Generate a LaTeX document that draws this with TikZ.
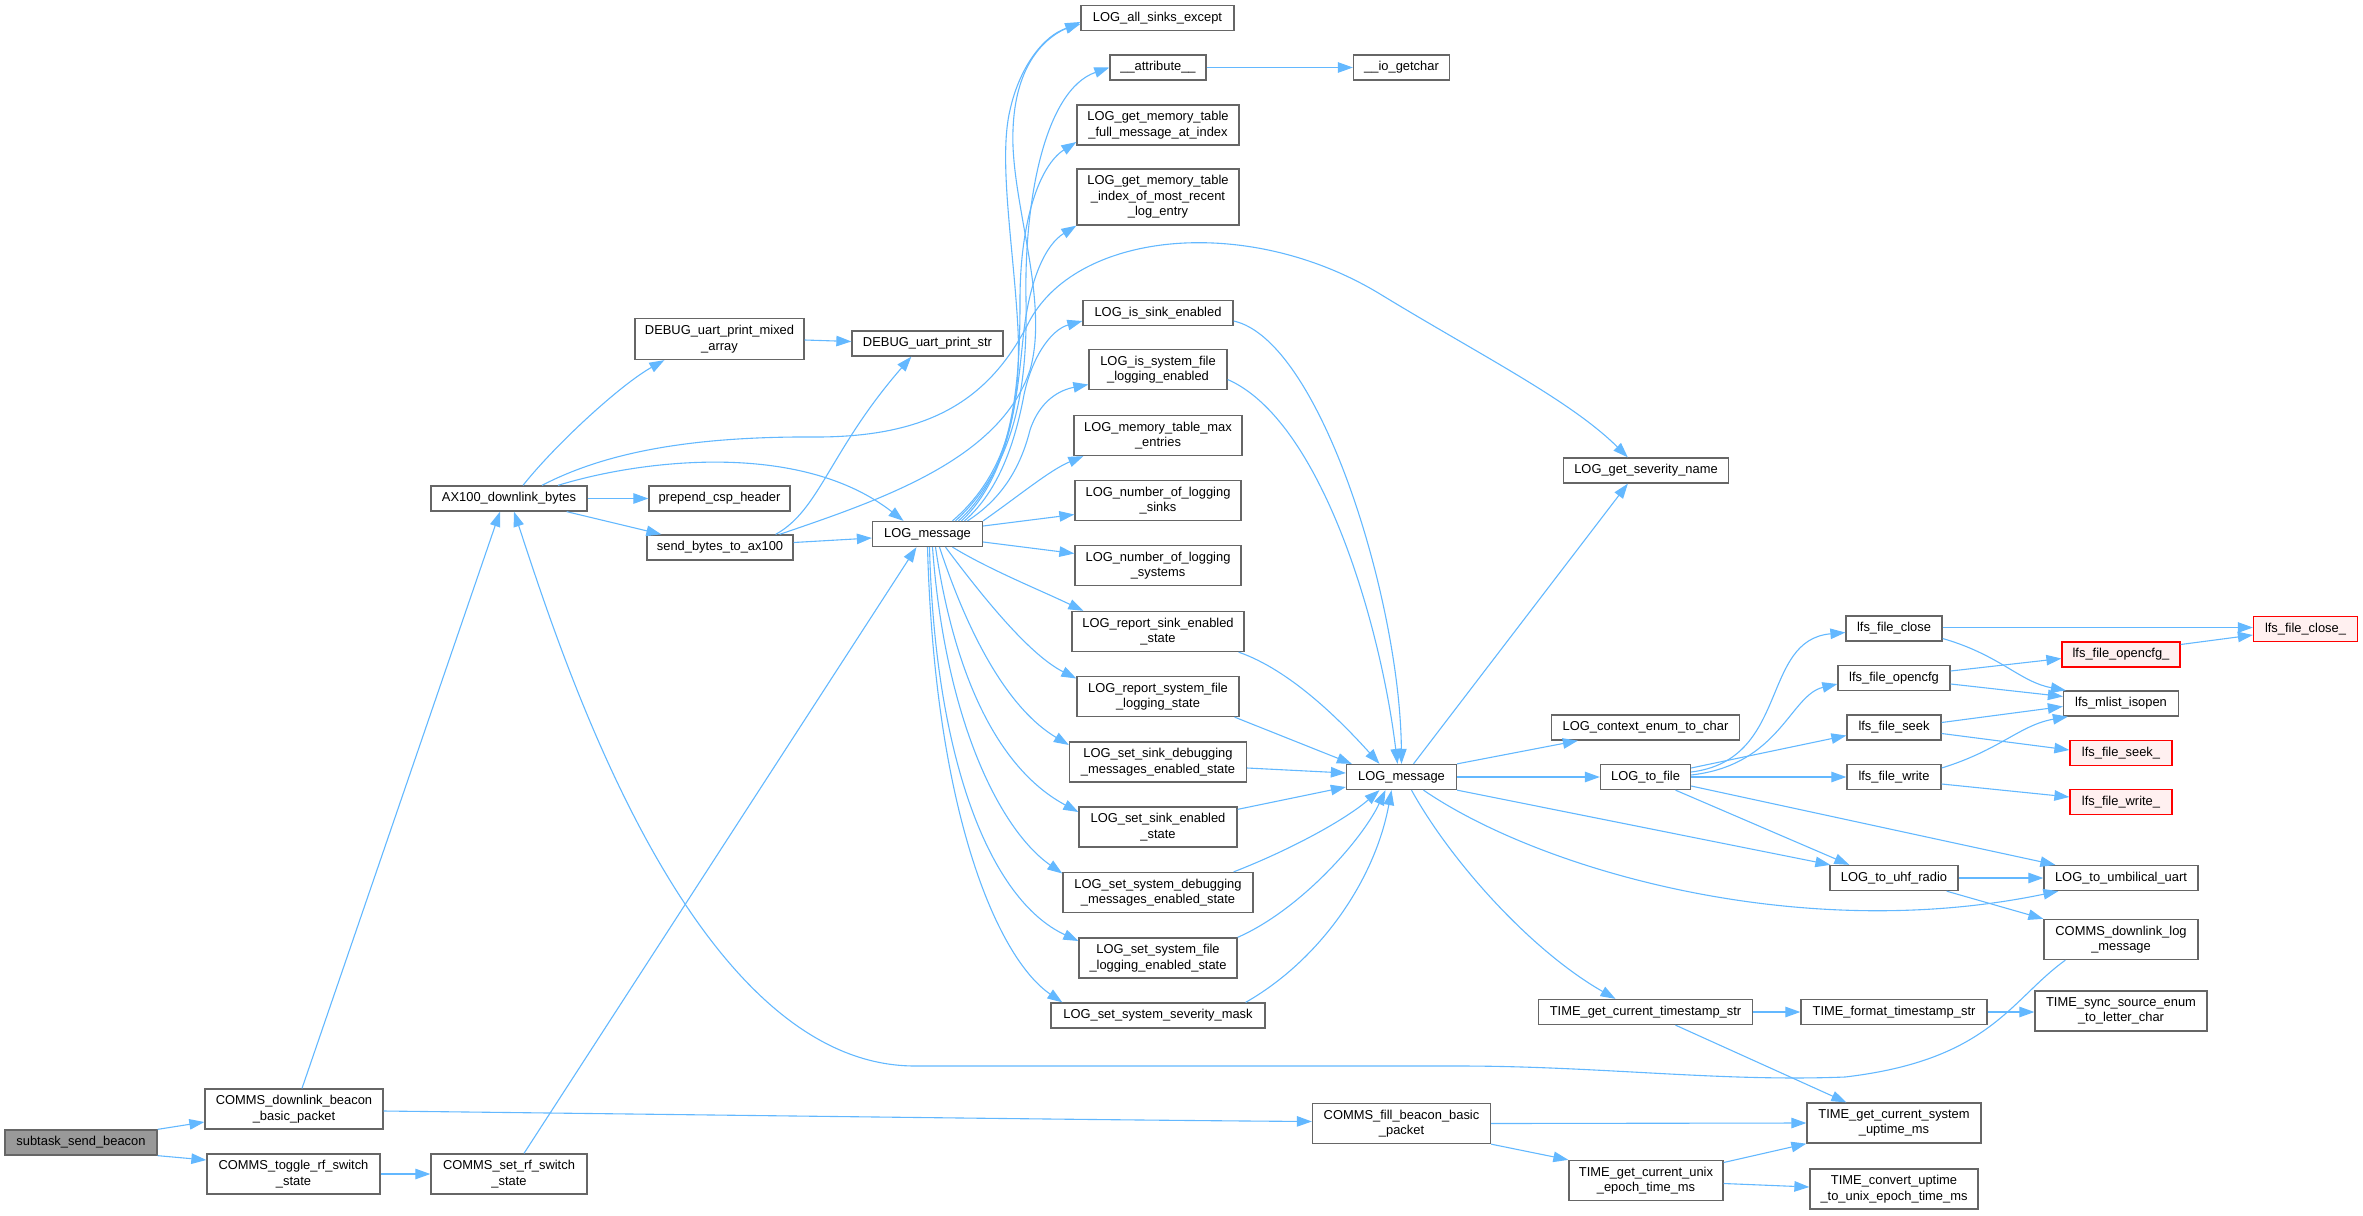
\documentclass[tikz,border=0pt]{standalone}
\usepackage{fontspec}
\setmainfont{Liberation Sans}
\usetikzlibrary{arrows.meta,calc}
\definecolor{edgec}{HTML}{63B8FF}
\definecolor{boxc}{HTML}{666666}
\definecolor{rootc}{HTML}{999999}
\definecolor{redfill}{HTML}{FFF0F0}
\newcommand{\mknode}[7][box]{\node[#1,minimum width=#5pt,minimum height=#6pt] (#2) at (#3,#4) {#7};}
\begin{document}
\begin{tikzpicture}[x=1pt,y=-1pt,
  box/.style={draw=boxc,fill=white,line width=1.3pt,inner sep=0pt,align=center,font=\fontsize{12.9}{15.5}\selectfont},
  rootbox/.style={box,fill=rootc},
  redbox/.style={box,draw=red,fill=redfill},
  conn/.style={draw=edgec,line width=1.1pt,-{Triangle[length=15pt,width=10.5pt]}}]
\useasboundingbox (0,0) rectangle (2363,1215);
% nodes
\mknode[rootbox]{root}{81}{1142.5}{152}{25}{subtask\_send\_beacon}
\mknode{cdl}{294}{1109}{178}{40}{COMMS\_downlink\_beacon\\\_basic\_packet}
\mknode{ctog}{293.5}{1174}{173}{40}{COMMS\_toggle\_rf\_switch\\\_state}
\mknode{cset}{509}{1174}{156}{40}{COMMS\_set\_rf\_switch\\\_state}
\mknode{ax}{509}{498.5}{156}{25}{AX100\_downlink\_bytes}
\mknode{dbgm}{719.5}{339}{169}{41}{DEBUG\_uart\_print\_mixed\\\_array}
\mknode{dbgs}{927.5}{343.5}{151}{25}{DEBUG\_uart\_print\_str}
\mknode{prep}{719.5}{498.5}{141}{25}{prepend\_csp\_header}
\mknode{send}{720}{547.5}{146}{25}{send\_bytes\_to\_ax100}
\mknode{logl}{927.5}{534}{110}{25}{LOG\_message}
\mknode{all}{1157.5}{18}{153}{25}{LOG\_all\_sinks\_except}
\mknode{attr}{1158}{67.5}{96}{25}{\_\_attribute\_\_}
\mknode{io}{1401.5}{67.5}{96}{25}{\_\_io\_getchar}
\mknode{gmf}{1158}{125}{162}{40}{LOG\_get\_memory\_table\\\_full\_message\_at\_index}
\mknode{gmi}{1158}{197}{162}{56}{LOG\_get\_memory\_table\\\_index\_of\_most\_recent\\\_log\_entry}
\mknode{isse}{1158}{313}{150}{25}{LOG\_is\_sink\_enabled}
\mknode{issf}{1158}{369.5}{138}{40}{LOG\_is\_system\_file\\\_logging\_enabled}
\mknode{mtm}{1158}{435.5}{168}{40}{LOG\_memory\_table\_max\\\_entries}
\mknode{nls}{1158}{500.5}{166}{40}{LOG\_number\_of\_logging\\\_sinks}
\mknode{nlsy}{1158}{565.5}{166}{40}{LOG\_number\_of\_logging\\\_systems}
\mknode{rse}{1158}{631.5}{172}{40}{LOG\_report\_sink\_enabled\\\_state}
\mknode{rsf}{1158}{696.5}{162}{40}{LOG\_report\_system\_file\\\_logging\_state}
\mknode{ssd}{1158}{762}{177}{40}{LOG\_set\_sink\_debugging\\\_messages\_enabled\_state}
\mknode{sse}{1158}{827}{158}{40}{LOG\_set\_sink\_enabled\\\_state}
\mknode{ssyd}{1158}{892.5}{190}{40}{LOG\_set\_system\_debugging\\\_messages\_enabled\_state}
\mknode{ssyf}{1158}{958}{158}{40}{LOG\_set\_system\_file\\\_logging\_enabled\_state}
\mknode{ssm}{1158}{1015.5}{214}{25}{LOG\_set\_system\_severity\_mask}
\mknode{sev}{1646}{470.5}{165}{25}{LOG\_get\_severity\_name}
\mknode{logr}{1401.5}{777}{110}{25}{LOG\_message}
\mknode{ctx}{1645.5}{727.5}{188}{25}{LOG\_context\_enum\_to\_char}
\mknode{tofile}{1645.5}{777}{90}{25}{LOG\_to\_file}
\mknode{fclose}{1894}{628.5}{96}{25}{lfs\_file\_close}
\mknode{fopen}{1894}{678}{112}{25}{lfs\_file\_opencfg}
\mknode{fseek}{1894}{727.5}{94}{25}{lfs\_file\_seek}
\mknode{fwrite}{1894}{777}{94}{25}{lfs\_file\_write}
\mknode[redbox]{fclosex}{2305.5}{629}{104}{25}{lfs\_file\_close\_}
\mknode[redbox]{fopenx}{2121}{654.5}{118}{25}{lfs\_file\_opencfg\_}
\mknode{mlist}{2121}{703.5}{115}{25}{lfs\_mlist\_isopen}
\mknode[redbox]{fseekx}{2121}{753}{102}{25}{lfs\_file\_seek\_}
\mknode[redbox]{fwritex}{2121}{802}{102}{25}{lfs\_file\_write\_}
\mknode{uhf}{1894}{878}{128}{25}{LOG\_to\_uhf\_radio}
\mknode{umb}{2121}{878}{154}{25}{LOG\_to\_umbilical\_uart}
\mknode{cdlog}{2121}{939.5}{154}{40}{COMMS\_downlink\_log\\\_message}
\mknode{tcts}{1645.5}{1012}{214}{25}{TIME\_get\_current\_timestamp\_str}
\mknode{tfmt}{1894}{1012}{186}{25}{TIME\_format\_timestamp\_str}
\mknode{tsync}{2121}{1011}{172}{40}{TIME\_sync\_source\_enum\\\_to\_letter\_char}
\mknode{cfill}{1401.5}{1123.5}{178}{40}{COMMS\_fill\_beacon\_basic\\\_packet}
\mknode{tup}{1894}{1123}{174}{40}{TIME\_get\_current\_system\\\_uptime\_ms}
\mknode{tunix}{1646}{1180.5}{154}{40}{TIME\_get\_current\_unix\\\_epoch\_time\_ms}
\mknode{tconv}{1894}{1189}{168}{40}{TIME\_convert\_uptime\\\_to\_unix\_epoch\_time\_ms}
% edges: left part
\draw[conn] (root.north east) -- ($(cdl.west)+(0,13)$);
\draw[conn] (root.south east) -- ($(ctog.west)+(0,-14)$);
\draw[conn] ($(cdl.north)+(8,0)$) -- ($(ax.south)+(-9,0)$);
\draw[conn] ($(cdl.east)+(0,2)$) .. controls (800,1116) and (1100,1120) .. ($(cfill.west)+(0,-2)$);
\draw[conn] (ctog.east) -- (cset.west);
\draw[conn] ($(cset.north)+(15,0)$) -- ($(logl.south)+(-11,0)$);
\draw[conn] ($(cdlog.south west)+(22,0)$) .. controls (2010,1000) and (1990,1060) .. (1845,1077)
  .. controls (1720,1082) and (1600,1066) .. (1458,1066) -- (915,1066)
  .. controls (690,1066) and (560,650) .. ($(ax.south)+(5,0)$);
\draw[conn] ($(ax.north)+(14,0)$) .. controls (555,445) and (620,385) .. ($(dbgm.south west)+(30,0)$);
\draw[conn] (ax.east) -- (prep.west);
\draw[conn] ($(ax.south east)+(-21,0)$) -- ($(send.north west)+(15,0)$);
\draw[conn] ($(ax.north)+(49,0)$) .. controls (640,460) and (800,440) .. ($(logl.north)+(-24,0)$);
\draw[conn] ($(ax.north)+(33,0)$) .. controls (610,450) and (700,436) .. (820,437)
  .. controls (930,436) and (990,400) .. (1030,320)
  .. controls (1080,230) and (1250,215) .. (1380,294)
  .. controls (1480,355) and (1570,400) .. ($(sev.north west)+(65,0)$);
\draw[conn] ($(send.north east)+(-18,0)$) .. controls (820,510) and (830,450) .. ($(dbgs.south west)+(60,0)$);
\draw[conn] ($(send.east)+(0,-5)$) -- ($(logl.west)+(0,4)$);
\draw[conn] ($(send.north east)+(-14,0)$) .. controls (880,500) and (1000,460) .. (1030,370)
  .. controls (1050,300) and (1010,200) .. (1013,130)
  .. controls (1015,70) and (1040,40) .. ($(all.west)+(0,4)$);
\draw[conn] ($(dbgm.east)+(0,1)$) -- ($(dbgs.west)+(0,-2)$);
\draw[conn] (attr.east) -- (io.west);
% LOG_message (left) fan
\draw[conn] ($(logl.north)+(25,0)$) .. controls (1000,480) and (1022,420) .. (1018,330)
  .. controls (1014,250) and (998,160) .. (1010,110)
  .. controls (1020,65) and (1045,35) .. ($(all.west)+(0,6)$);
\draw[conn] ($(logl.north)+(28,0)$) .. controls (1010,470) and (1028,400) .. (1026,300)
  .. controls (1024,200) and (1045,90) .. (attr.west);
\draw[conn] ($(logl.north)+(31,0)$) .. controls (1015,470) and (1020,380) .. (1020,300)
  .. controls (1020,220) and (1040,165) .. ($(gmf.west)+(0,17)$);
\draw[conn] ($(logl.north)+(34,0)$) .. controls (1015,470) and (1018,380) .. (1024,330)
  .. controls (1030,280) and (1045,245) .. (gmi.south west);
\draw[conn] ($(logl.north)+(37,0)$) .. controls (1000,490) and (1015,440) .. (1023,400)
  .. controls (1030,360) and (1050,330) .. ($(isse.west)+(0,8)$);
\draw[conn] ($(logl.north)+(40,0)$) .. controls (1000,500) and (1020,470) .. (1030,430)
  .. controls (1040,400) and (1060,390) .. ($(issf.west)+(0,15)$);
\draw[conn] (logl.north east) .. controls (1020,495) and (1050,470) .. ($(mtm.south west)+(10,0)$);
\draw[conn] ($(logl.east)+(0,-8)$) -- ($(nls.west)+(0,14)$);
\draw[conn] ($(logl.east)+(0,8)$) -- ($(nlsy.west)+(0,-12)$);
\draw[conn] ($(logl.south)+(25,0)$) .. controls (990,570) and (1040,590) .. ($(rse.north west)+(12,0)$);
\draw[conn] ($(logl.south)+(18,0)$) .. controls (985,600) and (1030,655) .. ($(rsf.west)+(0,-18)$);
\draw[conn] ($(logl.south)+(12,0)$) .. controls (970,640) and (1010,710) .. ($(ssd.west)+(0,-17)$);
\draw[conn] ($(logl.south)+(8,0)$) .. controls (955,680) and (1000,770) .. ($(sse.west)+(0,-15)$);
\draw[conn] ($(logl.south)+(5,0)$) .. controls (945,720) and (1000,830) .. ($(ssyd.west)+(0,-19)$);
\draw[conn] ($(logl.south)+(2,0)$) .. controls (935,760) and (990,900) .. ($(ssyf.west)+(0,-17)$);
\draw[conn] (logl.south) .. controls (935,820) and (1000,960) .. ($(ssm.north west)+(12,0)$);
% into LOG_message (right)
\draw[conn] ($(isse.east)+(0,8)$) .. controls (1320,340) and (1400,600) .. (logr.north);
\draw[conn] ($(issf.east)+(0,10)$) .. controls (1320,420) and (1380,620) .. ($(logr.north)+(-4,0)$);
\draw[conn] ($(rse.south east)+(-6,0)$) .. controls (1290,670) and (1340,720) .. ($(logr.north)+(-22,0)$);
\draw[conn] ($(rsf.south east)+(-5,0)$) -- ($(logr.north west)+(6,0)$);
\draw[conn] ($(ssd.east)+(0,6)$) -- ($(logr.west)+(0,-4)$);
\draw[conn] ($(sse.north east)+(0,3)$) -- ($(logr.west)+(0,10)$);
\draw[conn] ($(ssyd.north east)+(-20,0)$) .. controls (1290,850) and (1345,820) .. ($(logr.south)+(-22,0)$);
\draw[conn] (ssyf.north east) .. controls (1300,910) and (1362,840) .. ($(logr.south)+(-16,0)$);
\draw[conn] ($(ssm.north east)+(-20,0)$) .. controls (1320,960) and (1375,880) .. ($(logr.south)+(-10,0)$);
% LOG_message (right) out
\draw[conn] ($(logr.north)+(12,0)$) -- ($(sev.south west)+(65,0)$);
\draw[conn] (logr.north east) -- ($(ctx.south west)+(27,0)$);
\draw[conn] (logr.east) -- (tofile.west);
\draw[conn] (logr.south east) -- ($(uhf.north west)+(1,0)$);
\draw[conn] ($(logr.south)+(22,0)$) .. controls (1540,870) and (1800,945) .. ($(umb.south west)+(15,0)$);
\draw[conn] ($(logr.south)+(10,0)$) .. controls (1450,860) and (1530,950) .. ($(tcts.north)+(-30,0)$);
% LOG_to_file out
\draw[conn] ($(tofile.east)+(0,-5)$) .. controls (1790,760) and (1760,640) .. ($(fclose.west)+(0,4)$);
\draw[conn] ($(tofile.east)+(0,-2)$) .. controls (1780,765) and (1790,695) .. ($(fopen.west)+(0,6)$);
\draw[conn] ($(tofile.east)+(0,-9)$) -- ($(fseek.west)+(0,8)$);
\draw[conn] (tofile.east) -- (fwrite.west);
\draw[conn] ($(tofile.south)+(30,0)$) -- ($(uhf.north west)+(20,0)$);
\draw[conn] ($(tofile.east)+(0,9)$) -- ($(umb.north west)+(12,0)$);
% lfs
\draw[conn] ($(fclose.east)+(0,-1)$) -- ($(fclosex.west)+(0,-1.5)$);
\draw[conn] ($(fclose.east)+(0,10)$) .. controls (2000,655) and (2020,682) .. ($(mlist.north west)+(3,0)$);
\draw[conn] ($(fopen.east)+(0,-7)$) -- ($(fopenx.west)+(0,4)$);
\draw[conn] ($(fopen.east)+(0,6)$) -- ($(mlist.west)+(0,-7)$);
\draw[conn] ($(fopenx.east)+(0,-10)$) -- ($(fclosex.west)+(0,6)$);
\draw[conn] ($(fseek.east)+(0,-5)$) -- ($(mlist.west)+(0,3)$);
\draw[conn] ($(fseek.east)+(0,6)$) -- ($(fseekx.west)+(0,-3)$);
\draw[conn] ($(fwrite.east)+(0,-9)$) .. controls (2000,750) and (2020,725) .. ($(mlist.south west)+(5,0)$);
\draw[conn] ($(fwrite.east)+(0,7)$) -- ($(fwritex.west)+(0,-5)$);
% radio / time
\draw[conn] (uhf.east) -- (umb.west);
\draw[conn] ($(uhf.south east)+(-12,0)$) -- (cdlog.north west);
\draw[conn] (tcts.east) -- (tfmt.west);
\draw[conn] ($(tcts.south)+(30,0)$) -- ($(tup.north west)+(40,0)$);
\draw[conn] (tfmt.east) -- ($(tsync.west)+(0,1)$);
\draw[conn] (cfill.east) -- (tup.west);
\draw[conn] (cfill.south east) -- (tunix.north west);
\draw[conn] ($(tunix.east)+(0,-18)$) -- (tup.south west);
\draw[conn] ($(tunix.east)+(0,3)$) -- ($(tconv.west)+(0,-2)$);
\end{tikzpicture}
\end{document}
